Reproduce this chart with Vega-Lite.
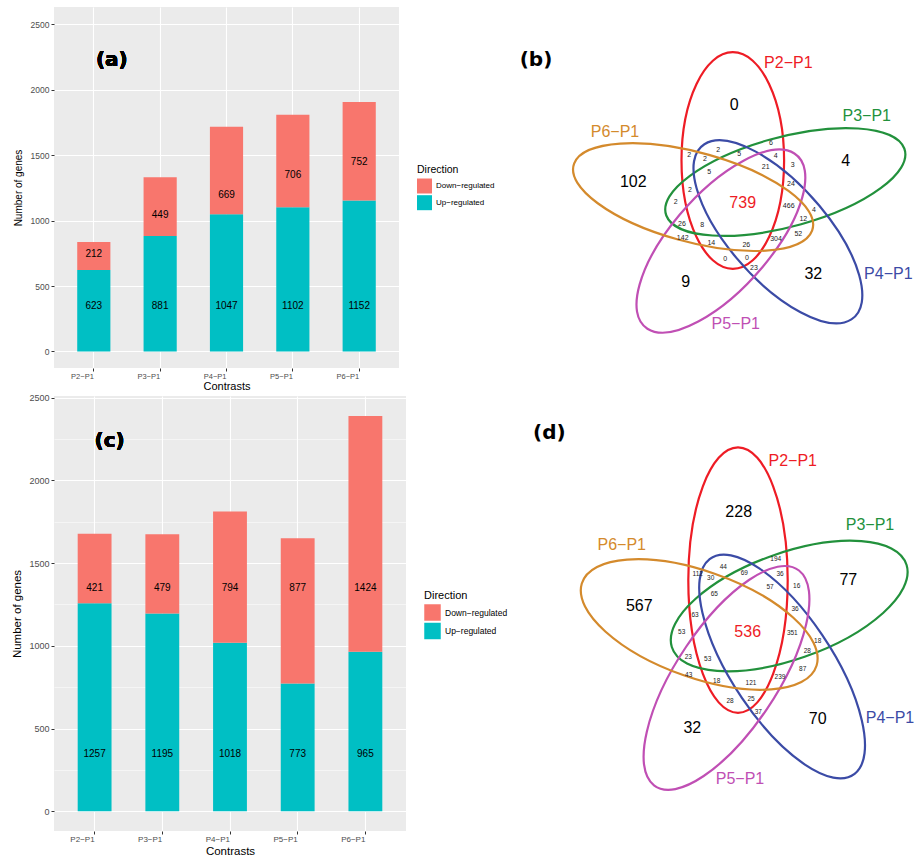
{
 "$schema": "https://vega.github.io/schema/vega-lite/v6.json",
 "background": "white",
 "padding": {"left": 11, "top": 7, "right": 0, "bottom": 0},
 "config": {"font": "Liberation Sans"},
 "spacing": 0,
 "resolve": {"scale": {"color": "independent", "shape": "independent"}},
 "hconcat": [
  {
   "spacing": 1,
   "resolve": {"scale": {"color": "independent", "shape": "independent"}},
   "vconcat": [
    {
     "width": 345, "height": 361,
     "view": {"fill": "#EBEBEB", "stroke": null},
     "data": {"values": [
      {"Contrast": "P2−P1", "Direction": "Up−regulated", "Count": 623, "LabelY": 345},
      {"Contrast": "P2−P1", "Direction": "Down−regulated", "Count": 212, "LabelY": 745},
      {"Contrast": "P3−P1", "Direction": "Up−regulated", "Count": 881, "LabelY": 345},
      {"Contrast": "P3−P1", "Direction": "Down−regulated", "Count": 449, "LabelY": 1044},
      {"Contrast": "P4−P1", "Direction": "Up−regulated", "Count": 1047, "LabelY": 345},
      {"Contrast": "P4−P1", "Direction": "Down−regulated", "Count": 669, "LabelY": 1191},
      {"Contrast": "P5−P1", "Direction": "Up−regulated", "Count": 1102, "LabelY": 345},
      {"Contrast": "P5−P1", "Direction": "Down−regulated", "Count": 706, "LabelY": 1344},
      {"Contrast": "P6−P1", "Direction": "Up−regulated", "Count": 1152, "LabelY": 345},
      {"Contrast": "P6−P1", "Direction": "Down−regulated", "Count": 752, "LabelY": 1443}
     ]},
     "layer": [
      {
       "mark": {"type": "bar"},
       "encoding": {
        "x": {"field": "Contrast", "type": "nominal", "sort": null,
         "scale": {"paddingInner": 0.5, "paddingOuter": 0.35},
         "axis": {"title": "Contrasts", "labelAngle": 0, "labelAlign": "right", "labelBaseline": "top",
          "labelFont": "Liberation Sans", "labelFontSize": 7.5, "labelColor": "#4D4D4D", "labelPadding": 1,
          "tickSize": 3, "tickColor": "#333333", "domain": false, "grid": true, "gridColor": "white", "gridWidth": 1.1,
          "bandPosition": 0.5, "titleFont": "Liberation Sans", "titleFontSize": 11, "titleFontWeight": "normal",
          "titleColor": "black", "titlePadding": 1}},
        "y": {"field": "Count", "type": "quantitative", "stack": "zero",
         "scale": {"domain": [-126, 2630], "nice": false, "zero": false},
         "axis": {"title": "Number of genes", "values": [0, 250, 500, 750, 1000, 1250, 1500, 1750, 2000, 2250, 2500],
          "format": "d", "labelExpr": "datum.value % 500 === 0 ? datum.label : ''",
          "grid": true, "gridColor": "white",
          "gridWidth": {"condition": {"test": "datum.value % 500 === 0", "value": 1.1}, "value": 0.5},
          "tickOpacity": {"condition": {"test": "datum.value % 500 === 0", "value": 1}, "value": 0},
          "tickSize": 3, "tickColor": "#333333", "domain": false,
          "labelFont": "Liberation Sans", "labelFontSize": 8.5, "labelColor": "#4D4D4D", "labelPadding": 2,
          "titleFont": "Liberation Sans", "titleFontSize": 10, "titleFontWeight": "normal", "titleColor": "black",
          "titlePadding": 7}},
        "color": {"field": "Direction", "type": "nominal",
         "scale": {"domain": ["Down−regulated", "Up−regulated"], "range": ["#F8766D", "#00BFC4"]},
         "legend": {"orient": "none", "legendX": 363, "legendY": 158, "title": "Direction",
          "titleFont": "Liberation Sans", "titleFontSize": 10.5, "titleFontWeight": "normal", "titleColor": "black",
          "titlePadding": 3, "labelFont": "Liberation Sans", "labelFontSize": 8, "labelColor": "black",
          "symbolType": "square", "symbolSize": 225, "symbolStrokeWidth": 0, "symbolOpacity": 1,
          "rowPadding": 1.7, "labelOffset": 4}},
        "order": {"field": "Direction", "sort": "descending"}
       }
      },
      {
       "mark": {"type": "text", "fontSize": 10, "font": "Liberation Sans", "color": "black"},
       "encoding": {
        "x": {"field": "Contrast", "type": "nominal", "sort": null},
        "y": {"field": "LabelY", "type": "quantitative", "stack": null},
        "text": {"field": "Count", "type": "nominal"}
       }
      },
      {
       "mark": {"type": "text", "text": "(a)", "font": "DejaVu Sans", "fontWeight": "bold", "fontSize": 20, "dx": 18, "color": "black"},
       "encoding": {"x": {"datum": "P2−P1"}, "y": {"datum": 2226}}
      }
     ]
    },
    {
     "width": 352, "height": 435,
     "view": {"fill": "#EBEBEB", "stroke": null},
     "data": {"values": [
      {"Contrast": "P2−P1", "Direction": "Up−regulated", "Count": 1257, "LabelY": 345},
      {"Contrast": "P2−P1", "Direction": "Down−regulated", "Count": 421, "LabelY": 1350},
      {"Contrast": "P3−P1", "Direction": "Up−regulated", "Count": 1195, "LabelY": 345},
      {"Contrast": "P3−P1", "Direction": "Down−regulated", "Count": 479, "LabelY": 1350},
      {"Contrast": "P4−P1", "Direction": "Up−regulated", "Count": 1018, "LabelY": 345},
      {"Contrast": "P4−P1", "Direction": "Down−regulated", "Count": 794, "LabelY": 1350},
      {"Contrast": "P5−P1", "Direction": "Up−regulated", "Count": 773, "LabelY": 345},
      {"Contrast": "P5−P1", "Direction": "Down−regulated", "Count": 877, "LabelY": 1350},
      {"Contrast": "P6−P1", "Direction": "Up−regulated", "Count": 965, "LabelY": 345},
      {"Contrast": "P6−P1", "Direction": "Down−regulated", "Count": 1424, "LabelY": 1350}
     ]},
     "layer": [
      {
       "mark": {"type": "bar"},
       "encoding": {
        "x": {"field": "Contrast", "type": "nominal", "sort": null,
         "scale": {"paddingInner": 0.5, "paddingOuter": 0.35},
         "axis": {"title": "Contrasts", "labelAngle": 0, "labelAlign": "right", "labelBaseline": "top",
          "labelFont": "Liberation Sans", "labelFontSize": 8, "labelColor": "#4D4D4D", "labelPadding": 1,
          "tickSize": 3, "tickColor": "#333333", "domain": false, "grid": true, "gridColor": "white", "gridWidth": 1.1,
          "bandPosition": 0.5, "titleFont": "Liberation Sans", "titleFontSize": 11.5, "titleFontWeight": "normal",
          "titleColor": "black", "titlePadding": 2}},
        "y": {"field": "Count", "type": "quantitative", "stack": "zero",
         "scale": {"domain": [-119, 2510], "nice": false, "zero": false},
         "axis": {"title": "Number of genes", "values": [0, 250, 500, 750, 1000, 1250, 1500, 1750, 2000, 2250, 2500],
          "format": "d", "labelExpr": "datum.value % 500 === 0 ? datum.label : ''",
          "grid": true, "gridColor": "white",
          "gridWidth": {"condition": {"test": "datum.value % 500 === 0", "value": 1.1}, "value": 0.5},
          "tickOpacity": {"condition": {"test": "datum.value % 500 === 0", "value": 1}, "value": 0},
          "tickSize": 3, "tickColor": "#333333", "domain": false,
          "labelFont": "Liberation Sans", "labelFontSize": 9, "labelColor": "#4D4D4D", "labelPadding": 2,
          "titleFont": "Liberation Sans", "titleFontSize": 11.5, "titleFontWeight": "normal", "titleColor": "black",
          "titlePadding": 6}},
        "color": {"field": "Direction", "type": "nominal",
         "scale": {"domain": ["Down−regulated", "Up−regulated"], "range": ["#F8766D", "#00BFC4"]},
         "legend": {"orient": "none", "legendX": 370, "legendY": 194, "title": "Direction",
          "titleFont": "Liberation Sans", "titleFontSize": 11, "titleFontWeight": "normal", "titleColor": "black",
          "titlePadding": 3, "labelFont": "Liberation Sans", "labelFontSize": 8.5, "labelColor": "black",
          "symbolType": "square", "symbolSize": 272, "symbolStrokeWidth": 0, "symbolOpacity": 1,
          "rowPadding": 1.5, "labelOffset": 4}},
        "order": {"field": "Direction", "sort": "descending"}
       }
      },
      {
       "mark": {"type": "text", "fontSize": 10, "font": "Liberation Sans", "color": "black"},
       "encoding": {
        "x": {"field": "Contrast", "type": "nominal", "sort": null},
        "y": {"field": "LabelY", "type": "quantitative", "stack": null},
        "text": {"field": "Count", "type": "nominal"}
       }
      },
      {
       "mark": {"type": "text", "text": "(c)", "font": "DejaVu Sans", "fontWeight": "bold", "fontSize": 20, "dx": 15, "color": "black"},
       "encoding": {"x": {"datum": "P2−P1"}, "y": {"datum": 2240}}
      }
     ]
    }
   ]
  },
  {
   "spacing": 10,
   "resolve": {"scale": {"color": "independent", "shape": "independent"}},
   "vconcat": [
    {
     "width": 406, "height": 375,
     "view": {"stroke": null},
     "data": {"values": [
      {"kind": "set", "name": "P2−P1", "x": -9.2, "y": 42.0},
      {"kind": "set", "name": "P3−P1", "x": 43.3, "y": 20.5},
      {"kind": "set", "name": "P4−P1", "x": 35.9, "y": -29.3},
      {"kind": "set", "name": "P5−P1", "x": -21.1, "y": -38.6},
      {"kind": "set", "name": "P6−P1", "x": -48.9, "y": 5.4},
      {"kind": "setlabel", "name": "P2−P1", "x": 46.3, "y": 139.8},
      {"kind": "setlabel", "name": "P3−P1", "x": 124.7, "y": 86.5},
      {"kind": "setlabel", "name": "P4−P1", "x": 146.3, "y": -71.8},
      {"kind": "setlabel", "name": "P5−P1", "x": -6.3, "y": -121.5},
      {"kind": "setlabel", "name": "P6−P1", "x": -127, "y": 70.8},
      {"kind": "big", "text": "0", "x": -7.7, "y": 97.5},
      {"kind": "big", "text": "4", "x": 103.7, "y": 41.5},
      {"kind": "big", "text": "102", "x": -108.7, "y": 20.8},
      {"kind": "center", "text": "739", "x": 0.7, "y": -0.2},
      {"kind": "big", "text": "9", "x": -56.3, "y": -79.8},
      {"kind": "big", "text": "32", "x": 71.3, "y": -71.8},
      {"kind": "tag", "text": "(b)", "x": -206, "y": 142.5},
      {"kind": "small", "text": "2", "x": -52.7, "y": 47.5},
      {"kind": "small", "text": "2", "x": -23.7, "y": 52.5},
      {"kind": "small", "text": "2", "x": -37, "y": 43.2},
      {"kind": "small", "text": "5", "x": -2.7, "y": 48.2},
      {"kind": "small", "text": "6", "x": 29, "y": 59.2},
      {"kind": "small", "text": "4", "x": 33.7, "y": 46.8},
      {"kind": "small", "text": "21", "x": 23.7, "y": 35.8},
      {"kind": "small", "text": "3", "x": 50.7, "y": 37.2},
      {"kind": "small", "text": "5", "x": -32.7, "y": 30.2},
      {"kind": "small", "text": "2", "x": -52, "y": 12.5},
      {"kind": "small", "text": "24", "x": 49, "y": 18.5},
      {"kind": "small", "text": "2", "x": -66.3, "y": 0.5},
      {"kind": "small", "text": "466", "x": 46.7, "y": -3.2},
      {"kind": "small", "text": "4", "x": 72, "y": -7.8},
      {"kind": "small", "text": "12", "x": 61.3, "y": -16.5},
      {"kind": "small", "text": "26", "x": -60, "y": -21.5},
      {"kind": "small", "text": "8", "x": -39.7, "y": -22.5},
      {"kind": "small", "text": "52", "x": 56.3, "y": -31.8},
      {"kind": "small", "text": "142", "x": -59.3, "y": -35.8},
      {"kind": "small", "text": "304", "x": 34, "y": -36.8},
      {"kind": "small", "text": "14", "x": -30.7, "y": -40.8},
      {"kind": "small", "text": "26", "x": 4.3, "y": -42.8},
      {"kind": "small", "text": "0", "x": -16.7, "y": -56.5},
      {"kind": "small", "text": "0", "x": 5, "y": -55.5},
      {"kind": "small", "text": "23", "x": 12, "y": -65.2}
     ]},
     "encoding": {
      "x": {"field": "x", "type": "quantitative", "scale": {"domain": [-234, 172], "nice": false, "zero": false}, "axis": null},
      "y": {"field": "y", "type": "quantitative", "scale": {"domain": [-179.5, 195.5], "nice": false, "zero": false}, "axis": null}
     },
     "layer": [
      {
       "transform": [{"filter": "datum.kind === 'set'"}],
       "mark": {"type": "point", "filled": false, "size": 4, "strokeWidth": 2.2, "opacity": 1},
       "encoding": {
        "shape": {"field": "name", "type": "nominal", "legend": null, "scale": {
         "domain": ["P2−P1", "P3−P1", "P4−P1", "P5−P1", "P6−P1"],
         "range": [
          "M0,-108.3C-28.3,-108.3,-51.3,-59.8,-51.3,0C-51.3,59.8,-28.3,108.3,0,108.3C28.3,108.3,51.3,59.8,51.3,0C51.3,-59.8,28.3,-108.3,0,-108.3Z",
          "M119,-33.5C110.2,-56.8,49.8,-60.7,-15.9,-42.2C-81.6,-23.7,-127.8,10.2,-119,33.5C-110.2,56.8,-49.8,60.7,15.9,42.2C81.6,23.7,127.8,-10.2,119,-33.5Z",
          "M73.5,87.6C96.4,73.2,82.1,22.3,41.5,-26.1C0.9,-74.5,-50.6,-102,-73.5,-87.6C-96.4,-73.2,-82.1,-22.3,-41.5,26.1C-0.9,74.5,50.6,102,73.5,87.6Z",
          "M-73.5,87.6C-96.4,73.2,-82.1,22.3,-41.5,-26.1C-0.9,-74.5,50.6,-102,73.5,-87.6C96.4,-73.2,82.1,-22.3,41.5,26.1C0.9,74.5,-50.6,102,-73.5,87.6Z",
          "M-119,-33.5C-110.2,-56.8,-49.8,-60.7,15.9,-42.2C81.6,-23.7,127.8,10.2,119,33.5C110.2,56.8,49.8,60.7,-15.9,42.2C-81.6,23.7,-127.8,-10.2,-119,-33.5Z"
         ]}},
        "color": {"field": "name", "type": "nominal", "legend": null, "scale": {
         "domain": ["P2−P1", "P3−P1", "P4−P1", "P5−P1", "P6−P1"],
         "range": ["#EE1C25", "#22913C", "#3B4BA6", "#C04FB4", "#D48A2C"]}}
       }
      },
      {
       "transform": [{"filter": "datum.kind === 'setlabel'"}],
       "mark": {"type": "text", "fontSize": 16, "font": "Liberation Sans"},
       "encoding": {"text": {"field": "name"}, "color": {"field": "name", "type": "nominal", "legend": null}}
      },
      {
       "transform": [{"filter": "datum.kind === 'big' || datum.kind === 'center'"}],
       "mark": {"type": "text", "fontSize": 16, "font": "Liberation Sans"},
       "encoding": {"text": {"field": "text"}, "color": {"condition": {"test": "datum.kind === 'center'", "value": "#EE1C25"}, "value": "black"}}
      },
      {
       "transform": [{"filter": "datum.kind === 'small'"}],
       "mark": {"type": "text", "fontSize": 7, "font": "Liberation Sans", "color": "#222222"},
       "encoding": {"text": {"field": "text"}}
      },
      {
       "transform": [{"filter": "datum.kind === 'tag'"}],
       "mark": {"type": "text", "fontSize": 20, "font": "DejaVu Sans", "fontWeight": "bold", "color": "black"},
       "encoding": {"text": {"field": "text"}}
      }
     ]
    },
    {
     "width": 406, "height": 470,
     "view": {"stroke": null},
     "data": {"values": [
      {"kind": "set", "name": "P2−P1", "x": -9.0, "y": 50.9},
      {"kind": "set", "name": "P3−P1", "x": 42.2, "y": 25.0},
      {"kind": "set", "name": "P4−P1", "x": 35.1, "y": -35.5},
      {"kind": "set", "name": "P5−P1", "x": -20.5, "y": -46.9},
      {"kind": "set", "name": "P6−P1", "x": -47.8, "y": 6.5},
      {"kind": "setlabel", "name": "P2−P1", "x": 45.7, "y": 170.3},
      {"kind": "setlabel", "name": "P3−P1", "x": 123, "y": 106},
      {"kind": "setlabel", "name": "P4−P1", "x": 143, "y": -87.3},
      {"kind": "setlabel", "name": "P5−P1", "x": -7, "y": -148.3},
      {"kind": "setlabel", "name": "P6−P1", "x": -125.3, "y": 86},
      {"kind": "big", "text": "228", "x": -8.3, "y": 118.7},
      {"kind": "big", "text": "77", "x": 101.3, "y": 51},
      {"kind": "big", "text": "567", "x": -107.7, "y": 25},
      {"kind": "center", "text": "536", "x": 0.7, "y": -0.7},
      {"kind": "big", "text": "32", "x": -54.7, "y": -97.3},
      {"kind": "big", "text": "70", "x": 70.7, "y": -88},
      {"kind": "tag", "text": "(d)", "x": -197.7, "y": 198.3},
      {"kind": "small", "text": "194", "x": 28.7, "y": 72},
      {"kind": "small", "text": "44", "x": -23.7, "y": 64},
      {"kind": "small", "text": "69", "x": -2.7, "y": 58.3},
      {"kind": "small", "text": "112", "x": -49.3, "y": 57},
      {"kind": "small", "text": "36", "x": 33, "y": 56.7},
      {"kind": "small", "text": "30", "x": -36.3, "y": 53},
      {"kind": "small", "text": "57", "x": 23, "y": 44.3},
      {"kind": "small", "text": "16", "x": 49.7, "y": 45.3},
      {"kind": "small", "text": "65", "x": -32.7, "y": 37},
      {"kind": "small", "text": "63", "x": -52, "y": 16},
      {"kind": "small", "text": "36", "x": 48, "y": 21.7},
      {"kind": "small", "text": "53", "x": -65.3, "y": -0.7},
      {"kind": "small", "text": "351", "x": 45.3, "y": -2.3},
      {"kind": "small", "text": "18", "x": 70.7, "y": -10},
      {"kind": "small", "text": "28", "x": 60.3, "y": -20},
      {"kind": "small", "text": "23", "x": -58.7, "y": -26.3},
      {"kind": "small", "text": "53", "x": -39.3, "y": -27.7},
      {"kind": "small", "text": "43", "x": -58.3, "y": -44},
      {"kind": "small", "text": "87", "x": 55.7, "y": -38.3},
      {"kind": "small", "text": "239", "x": 33, "y": -45.7},
      {"kind": "small", "text": "18", "x": -30.3, "y": -49.7},
      {"kind": "small", "text": "121", "x": 4, "y": -52.3},
      {"kind": "small", "text": "28", "x": -17, "y": -69.7},
      {"kind": "small", "text": "25", "x": 4, "y": -68.3},
      {"kind": "small", "text": "37", "x": 11.3, "y": -81}
     ]},
     "encoding": {
      "x": {"field": "x", "type": "quantitative", "scale": {"domain": [-239, 167], "nice": false, "zero": false}, "axis": null},
      "y": {"field": "y", "type": "quantitative", "scale": {"domain": [-231, 239], "nice": false, "zero": false}, "axis": null}
     },
     "layer": [
      {
       "transform": [{"filter": "datum.kind === 'set'"}],
       "mark": {"type": "point", "filled": false, "size": 4, "strokeWidth": 2.2, "opacity": 1},
       "encoding": {
        "shape": {"field": "name", "type": "nominal", "legend": null, "scale": {
         "domain": ["P2−P1", "P3−P1", "P4−P1", "P5−P1", "P6−P1"],
         "range": [
          "M0,-132.7C-27.4,-132.7,-49.7,-73.3,-49.7,0C-49.7,73.3,-27.4,132.7,0,132.7C27.4,132.7,49.7,73.3,49.7,0C49.7,-73.3,27.4,-132.7,0,-132.7Z",
          "M117.4,-41C108.9,-69.1,49.4,-73.4,-15.4,-50.8C-80.2,-28.2,-125.9,12.9,-117.4,41C-108.9,69.1,-49.4,73.4,15.4,50.8C80.2,28.2,125.9,-12.9,117.4,-41Z",
          "M72.5,107.4C94.7,90.1,80.2,27.9,40.2,-31.4C0.2,-90.7,-50.3,-124.7,-72.5,-107.4C-94.7,-90.1,-80.2,-27.9,-40.2,31.4C-0.2,90.7,50.3,124.7,72.5,107.4Z",
          "M-72.5,107.4C-94.7,90.1,-80.2,27.9,-40.2,-31.4C-0.2,-90.7,50.3,-124.7,72.5,-107.4C94.7,-90.1,80.2,-27.9,40.2,31.4C0.2,90.7,-50.3,124.7,-72.5,107.4Z",
          "M-117.4,-41C-108.9,-69.1,-49.4,-73.4,15.4,-50.8C80.2,-28.2,125.9,12.9,117.4,41C108.9,69.1,49.4,73.4,-15.4,50.8C-80.2,28.2,-125.9,-12.9,-117.4,-41Z"
         ]}},
        "color": {"field": "name", "type": "nominal", "legend": null, "scale": {
         "domain": ["P2−P1", "P3−P1", "P4−P1", "P5−P1", "P6−P1"],
         "range": ["#EE1C25", "#22913C", "#3B4BA6", "#C04FB4", "#D48A2C"]}}
       }
      },
      {
       "transform": [{"filter": "datum.kind === 'setlabel'"}],
       "mark": {"type": "text", "fontSize": 16, "font": "Liberation Sans"},
       "encoding": {"text": {"field": "name"}, "color": {"field": "name", "type": "nominal", "legend": null}}
      },
      {
       "transform": [{"filter": "datum.kind === 'big' || datum.kind === 'center'"}],
       "mark": {"type": "text", "fontSize": 16, "font": "Liberation Sans"},
       "encoding": {"text": {"field": "text"}, "color": {"condition": {"test": "datum.kind === 'center'", "value": "#EE1C25"}, "value": "black"}}
      },
      {
       "transform": [{"filter": "datum.kind === 'small'"}],
       "mark": {"type": "text", "fontSize": 6.5, "font": "Liberation Sans", "color": "#222222"},
       "encoding": {"text": {"field": "text"}}
      },
      {
       "transform": [{"filter": "datum.kind === 'tag'"}],
       "mark": {"type": "text", "fontSize": 20, "font": "DejaVu Sans", "fontWeight": "bold", "color": "black"},
       "encoding": {"text": {"field": "text"}}
      }
     ]
    }
   ]
  }
 ]
}
